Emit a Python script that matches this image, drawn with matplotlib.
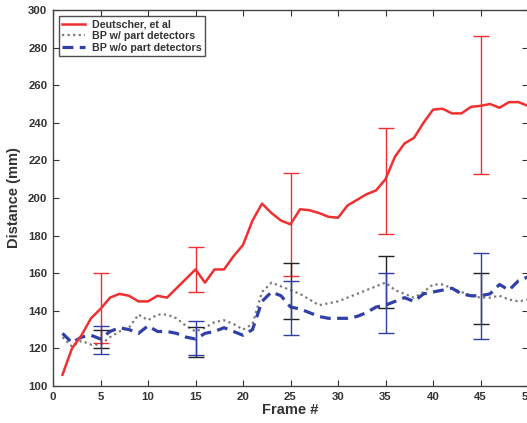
import matplotlib
matplotlib.use("Agg")
import matplotlib.pyplot as plt
import numpy as np

plt.rcParams['font.family'] = ['Liberation Sans', 'DejaVu Sans']

frames = list(range(1, 51))
deutscher = [106, 120, 127, 136, 141, 147, 149, 148, 145, 145,
             148, 147, 152, 157, 162, 155, 162, 162, 169, 175,
             188, 197, 192, 188, 186, 194, 193.5, 192, 190, 189.5,
             196, 199, 202, 204, 210, 222, 229, 232, 240, 247,
             247.5, 245, 245, 248.5, 249, 250, 248, 251, 251, 249]
bp_with = [126, 121, 124, 122, 122, 126, 129, 131, 138, 135,
           138, 138, 136, 132, 129, 131, 134, 135, 133, 130,
           133, 150, 155, 153, 151, 149, 146, 143, 144, 145,
           147, 149, 151, 153, 155, 151, 149, 147, 150, 154,
           154, 152, 150, 148, 147, 147, 148, 146, 145, 146]
bp_without = [128, 123, 126, 127, 125, 129, 131, 130, 128, 132,
              129, 129, 128, 126, 125, 128, 129, 131, 129, 127,
              130, 145, 150, 148, 142, 141, 139, 137, 136, 136,
              136, 137, 139, 142, 143, 145, 147, 145, 149, 150,
              151, 152, 149, 148, 148, 149, 154, 151, 156, 158]

err_frames = [5, 15, 25, 35, 45]
red_low = [123, 150, 158.5, 181, 213]
red_high = [160, 174, 213.5, 237, 286]
black_low = [120, 115.6, 135.6, 141.7, 133]
black_high = [130, 131.5, 165.6, 169, 160]
blue_low = [117, 116.3, 127.1, 128, 125.2]
blue_high = [132, 134.4, 156, 160, 171]

xticks = list(range(0, 51, 5))
yticks = list(range(100, 301, 20))

RED = '#f03030'
BLACK = '#222222'
GRAY = '#7a7a7a'
BLUE = '#3040a8'

fig = plt.figure(figsize=(5.27, 4.23), dpi=100)
ax = fig.add_axes([53/527, 37/423, 475/527, 376/423])

ax.plot(frames, bp_with, linestyle=(0, (1, 1.5)), color=GRAY, lw=1.6,
        label='BP w/ part detectors', zorder=2)
ax.plot(frames, bp_without, linestyle=(0, (3.4, 2.0)), color=BLUE, lw=2.3,
        label='BP w/o part detectors', zorder=3)
ax.plot(frames, deutscher, '-', color=RED, lw=1.8,
        label='Deutscher, et al', zorder=4)

def eb(low, high, color):
    low = np.array(low); high = np.array(high)
    mid = (low + high) / 2
    ax.errorbar(err_frames, mid, yerr=(high - low) / 2, fmt='none',
                ecolor=color, elinewidth=1.0, capsize=5.5, capthick=1.0, zorder=5)

eb(red_low, red_high, RED)
eb(black_low, black_high, BLACK)
eb(blue_low, blue_high, BLUE)

ax.set_xlim(0, 50)
ax.set_ylim(100, 300)
ax.set_xticks(xticks)
ax.set_yticks(yticks)
ax.tick_params(direction='in', length=4, width=0.8, top=True, right=True,
               labelsize=8.2, colors='#333333', pad=4)
for lab in ax.get_xticklabels() + ax.get_yticklabels():
    lab.set_fontweight('bold')
for s in ax.spines.values():
    s.set_color('#444444')
    s.set_linewidth(1.0)

ax.set_xlabel('Frame #', fontsize=10.5, fontweight='bold', color='#333333', labelpad=1)
ax.set_ylabel('Distance (mm)', fontsize=10.5, fontweight='bold', color='#333333', labelpad=5)

handles, labels = ax.get_legend_handles_labels()
order = [2, 0, 1]
leg = ax.legend([handles[i] for i in order], [labels[i] for i in order],
                loc='upper left', bbox_to_anchor=(0.005, 0.992),
                prop={'size': 7.7, 'weight': 'bold'}, frameon=True, fancybox=False,
                handlelength=2.2, handletextpad=0.6, borderpad=0.3,
                labelspacing=0.15, borderaxespad=0.3)
leg.get_frame().set_edgecolor('#222222')
leg.get_frame().set_linewidth(1.0)
for t in leg.get_texts():
    t.set_color('#333333')

fig.savefig('out.png', dpi=100)
